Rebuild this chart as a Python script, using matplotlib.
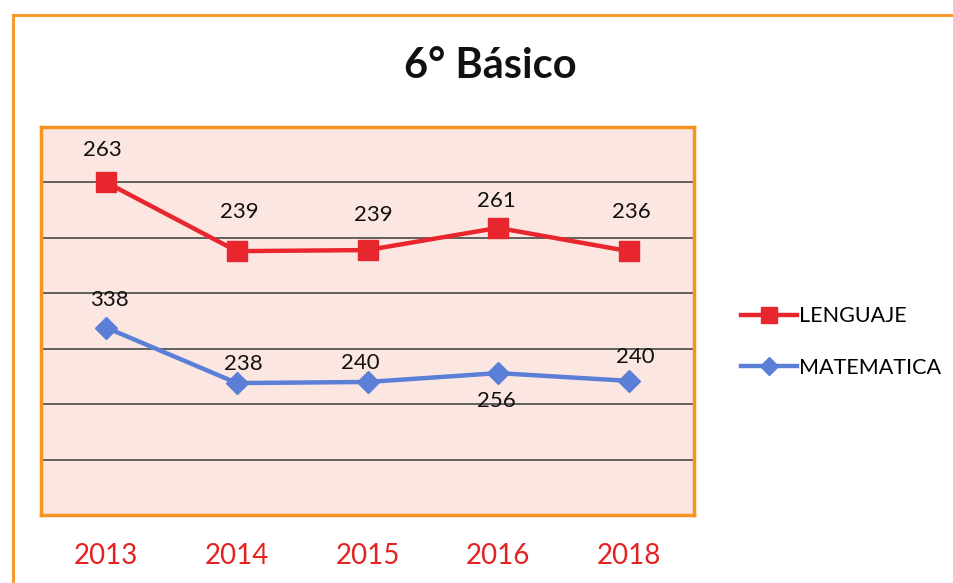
import matplotlib.pyplot as plt
from matplotlib.lines import Line2D

plt.rcParams['font.family'] = ['Lato', 'DejaVu Sans']

# data
years = ['2013', '2014', '2015', '2016', '2018']
# plotted positions (hidden axis 0-350)
lenguaje = [300, 238, 239, 259, 238]
matematica = [169, 119, 120, 128, 121]
# labels printed on the chart
lenguaje_lbl = ['263', '239', '239', '261', '236']
matematica_lbl = ['338', '238', '240', '256', '240']

red = '#e8262e'
blue = '#5b7fd6'
orange = '#f7931e'

fig = plt.figure(figsize=(9.54, 5.83), dpi=100)
fig.patch.set_facecolor('white')

# outer frame (top and left edges visible)
fig.add_artist(Line2D([13/954, 13/954], [0, 1 - 15/583], color=orange, lw=2))
fig.add_artist(Line2D([13/954, 1], [1 - 15/583, 1 - 15/583], color=orange, lw=2))

fig.text(490/954, 1 - 66/583, '6° Básico', ha='center', va='center',
         fontsize=30, fontweight='bold', color='#111111')

ax = fig.add_axes([41/954, 68/583, 653/954, 388/583])
ax.set_facecolor('#fbe6e2')
for s in ax.spines.values():
    s.set_color(orange)
    s.set_linewidth(2.5)

x = range(len(years))
ax.plot(x, lenguaje, color=red, lw=3.2, marker='s', ms=15, label='LENGUAJE', zorder=3)
ax.plot(x, matematica, color=blue, lw=3.2, marker='D', ms=11, label='MATEMATICA', zorder=3)

ax.set_xlim(-0.5, len(years) - 0.5)
ax.set_ylim(0, 350)
ax.set_yticks(range(50, 350, 50))
ax.yaxis.grid(True, color='#555555', lw=1.3)
ax.set_axisbelow(True)
ax.tick_params(axis='y', length=0, labelleft=False)
ax.set_xticks(list(x))
ax.set_xticklabels(years, color='#e52222', fontsize=20)
ax.tick_params(axis='x', length=0, pad=20)

# data labels
l_off = [(-3, 23), (2, 28), (4, 25), (-1, 19), (2, 28)]
m_off = [(2, 20), (5, 14), (-5, 14), (-1, -20), (5, 17)]
for i in x:
    ax.annotate(lenguaje_lbl[i], (i, lenguaje[i]), textcoords='offset points',
                xytext=l_off[i], ha='center', va='center', fontsize=16, color='#111111')
    ax.annotate(matematica_lbl[i], (i, matematica[i]), textcoords='offset points',
                xytext=m_off[i], ha='center', va='center', fontsize=16, color='#111111')

fig.legend(loc='center left', bbox_to_anchor=(722/954, 1 - 342/583), frameon=False,
           fontsize=15.5, handlelength=2.6, handletextpad=0.1, labelspacing=1.45,
           markerscale=0.8)

fig.savefig('out.png', dpi=100)
